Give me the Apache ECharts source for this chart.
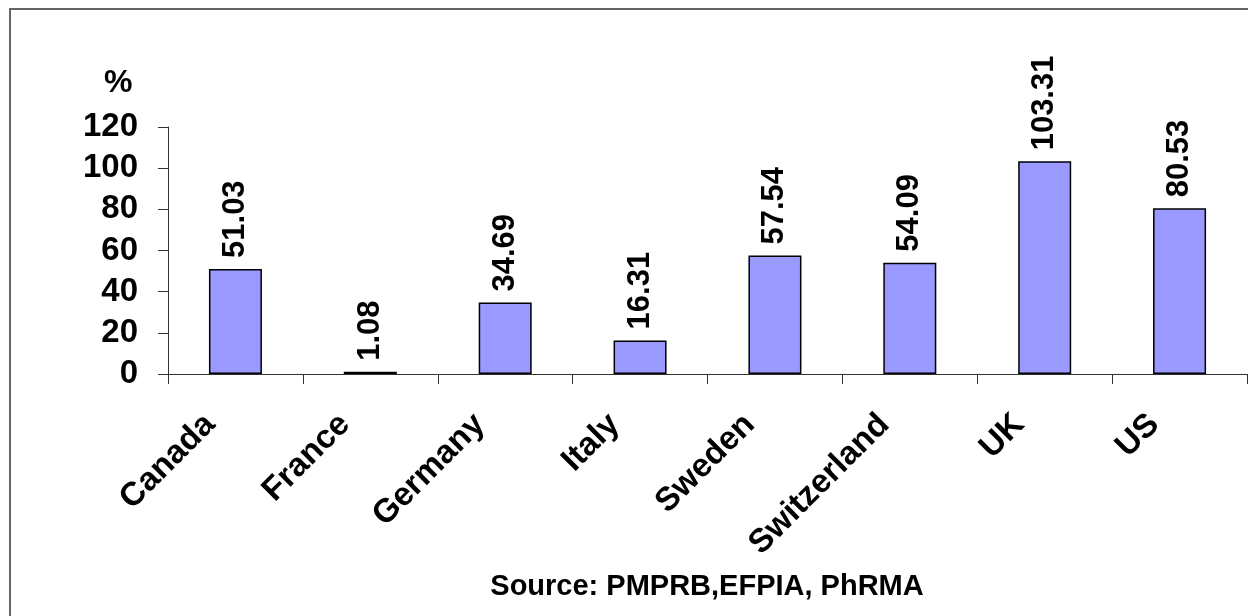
<!DOCTYPE html>
<html>
<head>
<meta charset="utf-8">
<script src="https://cdn.jsdelivr.net/npm/echarts@6/dist/echarts.min.js"></script>
<style>
html,body{margin:0;padding:0;background:#fff;}
#chart{width:1248px;height:616px;}
</style>
</head>
<body>
<div id="chart"></div>
<script>
const categories = ['Canada', 'France', 'Germany', 'Italy', 'Sweden', 'Switzerland', 'UK', 'US'];
const values = [51.03, 1.08, 34.69, 16.31, 57.54, 54.09, 103.31, 80.53];
const yTicks = [0, 20, 40, 60, 80, 100, 120];
const unitLabel = '%';
const sourceText = 'Source: PMPRB,EFPIA, PhRMA';

const FONT = 'Arial, "Liberation Sans", sans-serif';
const chart = echarts.init(document.getElementById('chart'), null, {renderer: 'canvas'});
chart.setOption({
  animation: false,
  backgroundColor: '#fff',
  grid: {left: 168, right: 1, top: 127, bottom: 242, containLabel: false},
  xAxis: {
    type: 'category',
    data: categories,
    boundaryGap: true,
    axisLine: {lineStyle: {color: '#333', width: 1}},
    axisTick: {show: true, length: 10, alignWithLabel: false, lineStyle: {color: '#333'}},
    axisLabel: {
      rotate: 45, margin: 20, interval: 0,
      color: '#000', fontFamily: FONT, fontWeight: 'bold', fontSize: 33,
      padding: [0, 36, 0, 0]
    }
  },
  yAxis: {
    type: 'value',
    min: yTicks[0], max: yTicks[yTicks.length - 1], interval: 20,
    axisLine: {show: true, lineStyle: {color: '#333', width: 1}},
    axisTick: {show: true, length: 10, lineStyle: {color: '#333'}},
    splitLine: {show: false},
    axisLabel: {margin: 30, color: '#000', fontFamily: FONT, fontWeight: 'bold', fontSize: 33}
  },
  series: [{
    type: 'bar',
    data: values,
    barWidth: 53,
    itemStyle: {color: '#9999ff', borderColor: '#000', borderWidth: 1.5},
    label: {
      show: true, position: 'top', rotate: 90, align: 'left', verticalAlign: 'middle',
      distance: 14, offset: [-3, 0],
      color: '#000', fontFamily: FONT, fontWeight: 'bold', fontSize: 31,
      formatter: p => p.value.toFixed(2)
    }
  }],
  graphic: [
    {type: 'rect', shape: {x: 10, y: 9, width: 1300, height: 700},
     style: {fill: 'none', stroke: '#666', lineWidth: 2}, silent: true},
    {type: 'text', x: 104, y: 67, style: {text: unitLabel, font: 'bold 32px ' + FONT, fill: '#000'}},
    {type: 'text', x: 707, y: 572, style: {text: sourceText, font: 'bold 29px ' + FONT, fill: '#000', textAlign: 'center'}}
  ]
});
</script>
</body>
</html>
